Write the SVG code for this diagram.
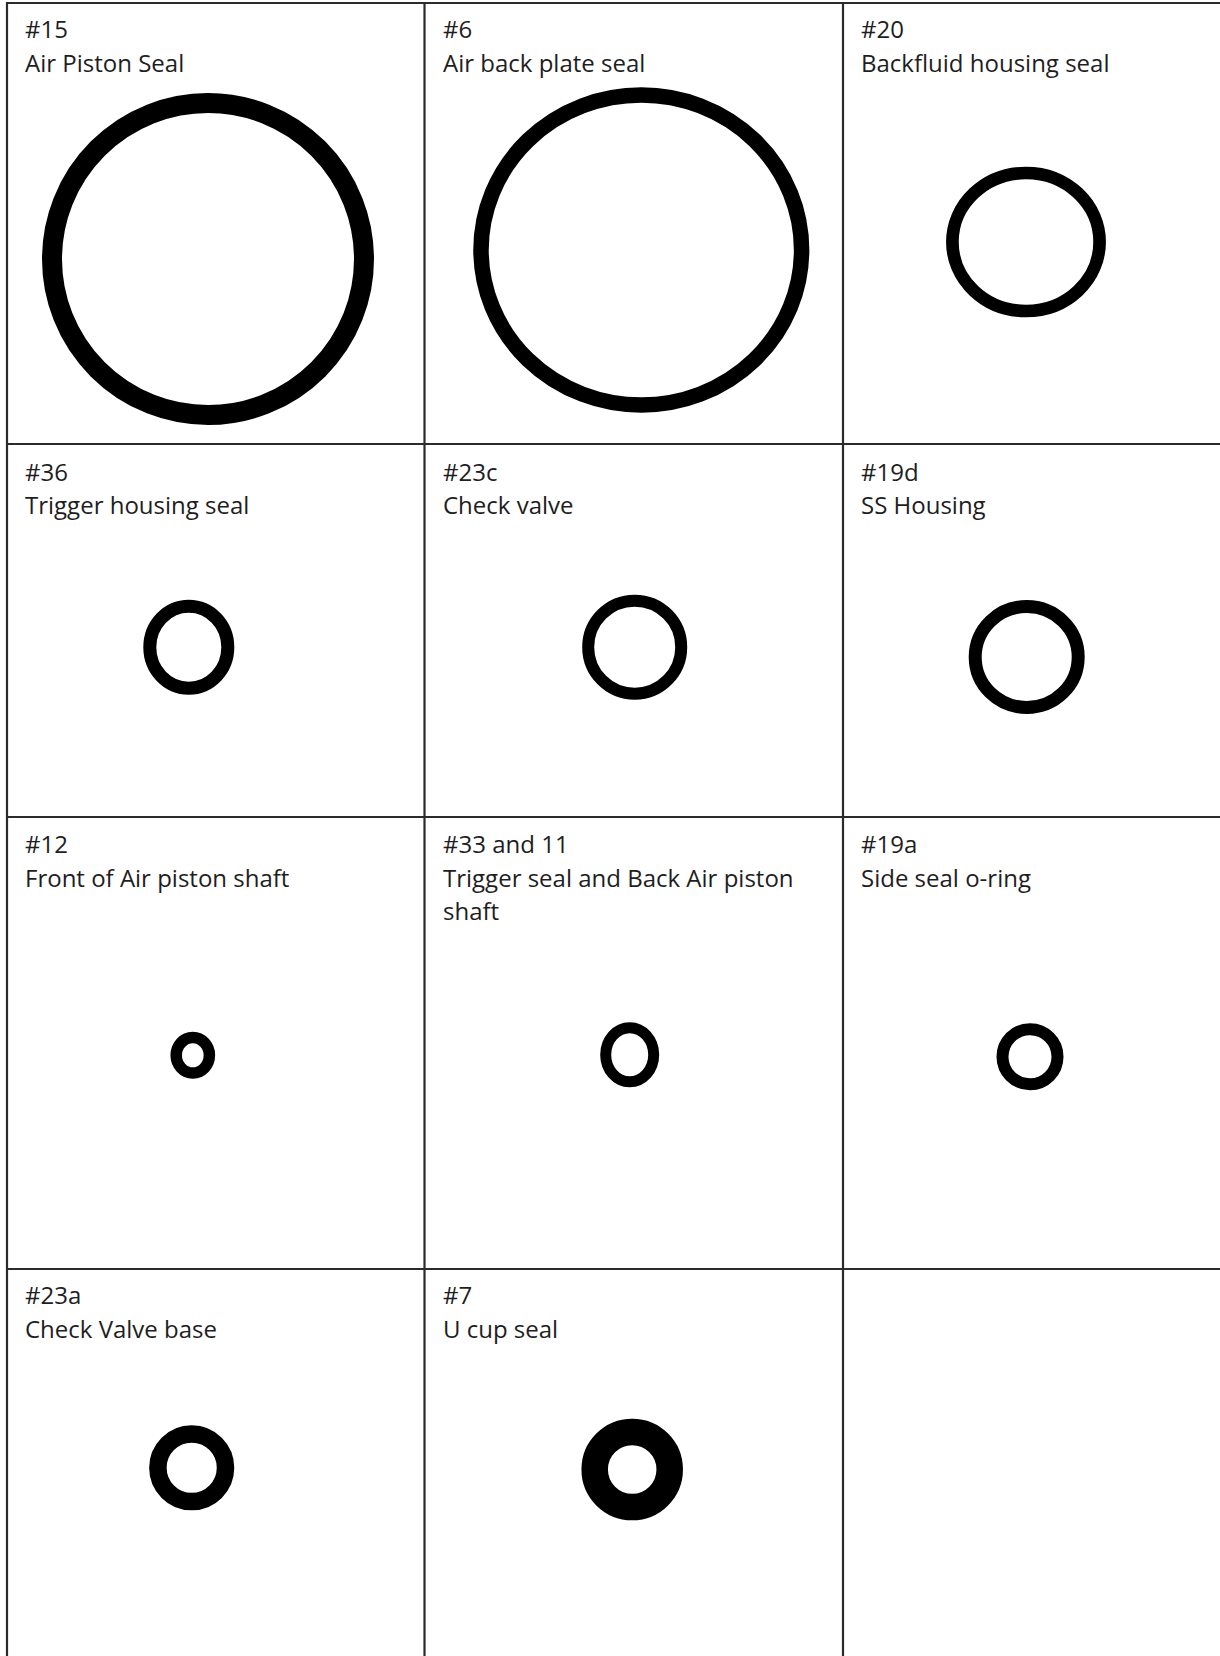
<svg xmlns="http://www.w3.org/2000/svg" width="1220" height="1656" viewBox="0 0 1220 1656">
<style>
.grid line{stroke:#2b2b2b;stroke-width:2.2}
.lbl{font-family:"Open Sans","Noto Sans",sans-serif;font-size:24px;fill:#1e1e1e}
.ring{fill:none;stroke:#000}
</style>
<rect width="1220" height="1656" fill="#fff"/>
<g id="grid" class="grid">
<line x1="6" y1="3" x2="1220" y2="3"/>
<line x1="6" y1="444" x2="1220" y2="444"/>
<line x1="6" y1="817" x2="1220" y2="817"/>
<line x1="6" y1="1269" x2="1220" y2="1269"/>
<line x1="7" y1="2" x2="7" y2="1656"/>
<line x1="424.5" y1="2" x2="424.5" y2="1656"/>
<line x1="843" y1="2" x2="843" y2="1656"/>
</g>
<g id="cell-15">
<text class="lbl" x="25" y="38">#15</text>
<text class="lbl" x="25" y="72">Air Piston Seal</text>
<circle class="ring" cx="208" cy="259" r="156" stroke-width="20"/>
</g>
<g id="cell-6">
<text class="lbl" x="443" y="38">#6</text>
<text class="lbl" x="443" y="72">Air back plate seal</text>
<ellipse class="ring" cx="641.3" cy="250" rx="160.3" ry="155" stroke-width="15.5"/>
</g>
<g id="cell-20">
<text class="lbl" x="861" y="38">#20</text>
<text class="lbl" x="861" y="72">Backfluid housing seal</text>
<ellipse class="ring" cx="1026" cy="242" rx="73.6" ry="69" stroke-width="12.7"/>
</g>
<g id="cell-36">
<text class="lbl" x="25" y="481">#36</text>
<text class="lbl" x="25" y="514">Trigger housing seal</text>
<ellipse class="ring" cx="188.8" cy="647.2" rx="39" ry="41" stroke-width="13"/>
</g>
<g id="cell-23c">
<text class="lbl" x="443" y="481">#23c</text>
<text class="lbl" x="443" y="514">Check valve</text>
<circle class="ring" cx="634.7" cy="647.2" r="46.5" stroke-width="12"/>
</g>
<g id="cell-19d">
<text class="lbl" x="861" y="481">#19d</text>
<text class="lbl" x="861" y="514">SS Housing</text>
<ellipse class="ring" cx="1026.7" cy="657" rx="51.5" ry="50.5" stroke-width="13"/>
</g>
<g id="cell-12">
<text class="lbl" x="25" y="853">#12</text>
<text class="lbl" x="25" y="887">Front of Air piston shaft</text>
<ellipse class="ring" cx="192.8" cy="1055.3" rx="16.6" ry="17.7" stroke-width="11.5"/>
</g>
<g id="cell-33-11">
<text class="lbl" x="443" y="853">#33 and 11</text>
<text class="lbl" x="443" y="887">Trigger seal and Back Air piston</text>
<text class="lbl" x="443" y="920">shaft</text>
<ellipse class="ring" cx="629.7" cy="1054.7" rx="24" ry="27" stroke-width="11"/>
</g>
<g id="cell-19a">
<text class="lbl" x="861" y="853">#19a</text>
<text class="lbl" x="861" y="887">Side seal o-ring</text>
<circle class="ring" cx="1030" cy="1056.7" r="27.5" stroke-width="12"/>
</g>
<g id="cell-23a">
<text class="lbl" x="25" y="1304">#23a</text>
<text class="lbl" x="25" y="1338">Check Valve base</text>
<circle class="ring" cx="191.7" cy="1467.8" r="33.8" stroke-width="17.5"/>
</g>
<g id="cell-7">
<text class="lbl" x="443" y="1304">#7</text>
<text class="lbl" x="443" y="1338">U cup seal</text>
<circle class="ring" cx="632.2" cy="1469.5" r="37.5" stroke-width="26.5"/>
</g>
<g id="cell-empty"/>
</svg>
